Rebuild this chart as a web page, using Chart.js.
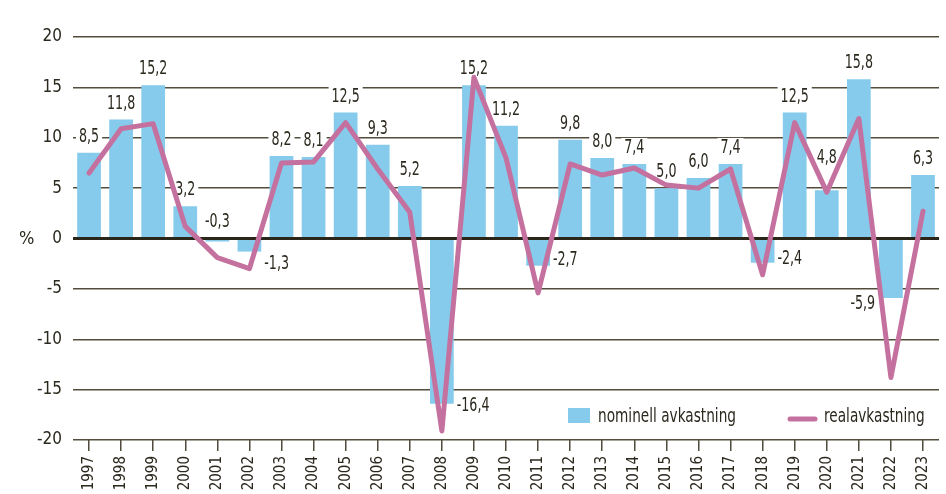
<!DOCTYPE html>
<html lang="sv">
  <head>
    <meta charset="UTF-8" />
    <title>Nominell avkastning och realavkastning</title>
    <script src="https://cdn.jsdelivr.net/npm/chart.js@4"></script>
    <style>
      html, body { margin: 0; padding: 0; background: #fff; }
      #wrap { width: 946px; height: 494px; position: relative; }
    </style>
  </head>
  <body>
    <div id="wrap"><canvas id="chart"></canvas></div>

    <script>
      // Data
      const years = ["1997", "1998", "1999", "2000", "2001", "2002", "2003", "2004", "2005",
        "2006", "2007", "2008", "2009", "2010", "2011", "2012", "2013", "2014", "2015",
        "2016", "2017", "2018", "2019", "2020", "2021", "2022", "2023"];
      const nominell = [8.5, 11.8, 15.2, 3.2, -0.3, -1.3, 8.2, 8.1, 12.5, 9.3, 5.2, -16.4, 15.2,
        11.2, -2.7, 9.8, 8.0, 7.4, 5.0, 6.0, 7.4, -2.4, 12.5, 4.8, 15.8, -5.9, 6.3];
      const real = [6.5, 10.9, 11.4, 1.2, -1.9, -3.0, 7.5, 7.6, 11.5, 6.9, 2.6, -19.1, 16.0,
        8.0, -5.4, 7.4, 6.3, 7.0, 5.3, 5.0, 6.9, -3.6, 11.5, 4.6, 11.9, -13.8, 2.7];
      const yMin = -20, yMax = 20, yStep = 5;
      const legendNames = ["nominell avkastning", "realavkastning"];

      const FONT = "'Liberation Sans Narrow', 'DejaVu Sans Condensed', 'Liberation Sans', sans-serif";
      const INK = "#2b281d";
      const BLUE = "#86cbec";
      const PINK = "#c5719f";

      const fmt = (v) => v.toFixed(1).replace(".", ",");

      // where a few labels sit relative to their bar
      const labelPlace = {
        "2001": { side: "zero", dy: -19 },
        "2002": { side: "right", dy: 11 },
        "2008": { side: "right", dy: 1 },
        "2011": { side: "right", dy: -7 },
        "2018": { side: "right", dy: -5 },
        "2020": { side: "top", dy: -33 },
        "2022": { side: "left", dy: 5 },
      };

      // condensed text: squeeze horizontally since no condensed face is at hand
      function narrowText(ctx, txt, x, y, sx) {
        ctx.save();
        ctx.translate(x, y);
        ctx.scale(sx, 1);
        ctx.fillText(txt, 0, 0);
        ctx.restore();
      }

      const extras = {
        id: "extras",
        beforeDatasetsDraw(chart) {
          const ctx = chart.ctx;
          const meta = chart.getDatasetMeta(1);
          const sx = 0.74;
          ctx.save();
          ctx.font = "19px " + FONT;
          ctx.textBaseline = "middle";
          ctx.textAlign = "center";
          meta.data.forEach((bar, i) => {
            const v = nominell[i];
            const txt = fmt(v);
            const w = ctx.measureText(txt).width * sx;
            const half = bar.width / 2;
            const p = labelPlace[years[i]] || { side: v >= 0 ? "top" : "right", dy: v >= 0 ? -17 : 0 };
            let cx, cy;
            if (p.side === "top") { cx = bar.x; cy = bar.y + p.dy; }
            else if (p.side === "zero") { cx = bar.x; cy = bar.base + p.dy; }
            else if (p.side === "right") { cx = bar.x + half + 3 + w / 2; cy = bar.y + p.dy; }
            else { cx = bar.x - half - 4 - w / 2; cy = bar.y + p.dy; }
            ctx.fillStyle = "#fff";
            ctx.fillRect(cx - w / 2 - 3, cy - 9, w + 6, 18);
            ctx.fillStyle = INK;
            narrowText(ctx, txt, cx, cy + 1, sx);
          });
          ctx.restore();
        },
        afterDraw(chart) {
          const ctx = chart.ctx;
          const y0 = chart.scales.y.getPixelForValue(0);
          ctx.save();
          ctx.fillStyle = INK;
          ctx.font = "18px " + FONT;
          ctx.textBaseline = "middle";
          ctx.textAlign = "left";
          ctx.fillText("%", 19, y0 + 1);

          // legend
          ctx.fillStyle = BLUE;
          ctx.fillRect(568, 408, 22, 15);
          ctx.fillStyle = INK;
          ctx.font = "19px " + FONT;
          narrowText(ctx, legendNames[0], 598, 417, 0.8);
          ctx.strokeStyle = PINK;
          ctx.lineWidth = 5;
          ctx.lineCap = "round";
          ctx.beginPath();
          ctx.moveTo(790, 419);
          ctx.lineTo(815, 419);
          ctx.stroke();
          narrowText(ctx, legendNames[1], 824, 417, 0.8);
          ctx.restore();
        },
      };

      Chart.defaults.font.family = FONT;
      Chart.defaults.color = INK;

      new Chart(document.getElementById("chart"), {
        type: "bar",
        data: {
          labels: years,
          datasets: [
            {
              type: "line",
              label: legendNames[1],
              data: real,
              borderColor: PINK,
              borderWidth: 5,
              tension: 0,
              pointRadius: 0,
              borderJoinStyle: "round",
              borderCapStyle: "round",
              order: 0,
            },
            {
              label: legendNames[0],
              data: nominell,
              backgroundColor: BLUE,
              barPercentage: 0.74,
              categoryPercentage: 1,
              order: 1,
            },
          ],
        },
        options: {
          responsive: true,
          maintainAspectRatio: false,
          animation: false,
          layout: { padding: { left: 0, right: 0, top: 37, bottom: 0 } },
          plugins: { legend: { display: false }, tooltip: { enabled: false } },
          scales: {
            x: {
              ticks: {
                minRotation: 90,
                maxRotation: 90,
                autoSkip: false,
                padding: 5,
                font: { size: 15 },
              },
              grid: {
                drawOnChartArea: false,
                offset: false,
                tickLength: 11,
                color: "#4f4a3a",
                lineWidth: 1.5,
              },
              border: { display: false },
              afterFit: (s) => { s.height = 54; },
            },
            y: {
              min: yMin,
              max: yMax,
              ticks: {
                stepSize: yStep,
                padding: 11,
                font: { size: 17 },
                callback: (v) => String(v),
              },
              grid: {
                drawTicks: false,
                color: (c) => (c.tick && c.tick.value === 0 ? "#2a2619" : "#524d3d"),
                lineWidth: (c) => (c.tick && c.tick.value === 0 ? 3 : 1.5),
              },
              border: { display: false },
              afterFit: (s) => { s.width = 73; },
            },
          },
        },
        plugins: [extras],
      });
    </script>
  </body>
</html>
